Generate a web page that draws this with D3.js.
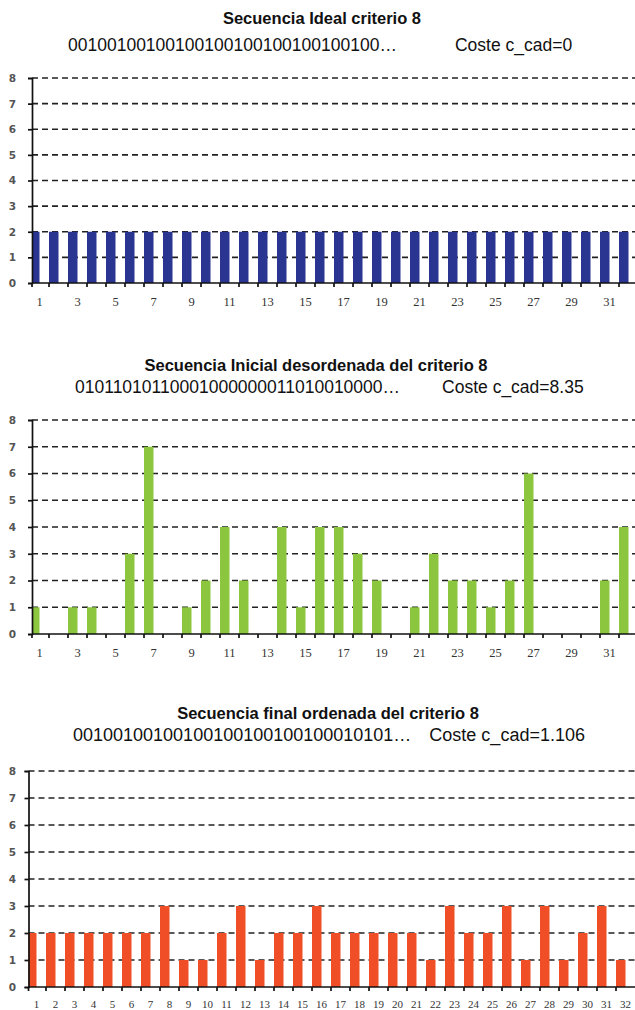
<!DOCTYPE html>
<html>
<head>
<meta charset="utf-8">
<script src="https://d3js.org/d3.v7.min.js"></script>
<style>
  body { margin: 0; background: #fff; }
  svg { display: block; }
</style>
</head>
<body>
<script>
    // posiciones 1..32 de la secuencia
    const categorias = [1, 2, 3, 4, 5, 6, 7, 8, 9, 10, 11, 12, 13, 14, 15, 16,
        17, 18, 19, 20, 21, 22, 23, 24, 25, 26, 27, 28, 29, 30, 31, 32];
    const yTicks = [0, 1, 2, 3, 4, 5, 6, 7, 8];

    const valoresIdeal = [2, 2, 2, 2, 2, 2, 2, 2, 2, 2, 2, 2, 2, 2, 2, 2,
        2, 2, 2, 2, 2, 2, 2, 2, 2, 2, 2, 2, 2, 2, 2, 2];
    const valoresInicial = [1, 0, 1, 1, 0, 3, 7, 0, 1, 2, 4, 2, 0, 4, 1, 4,
        4, 3, 2, 0, 1, 3, 2, 2, 1, 2, 6, 0, 0, 0, 2, 4];
    const valoresFinal = [2, 2, 2, 2, 2, 2, 2, 3, 1, 1, 2, 3, 1, 2, 2, 3,
        2, 2, 2, 2, 2, 1, 3, 2, 2, 3, 1, 3, 1, 2, 3, 1];

    const titulos = ['Secuencia Ideal criterio 8',
        'Secuencia Inicial desordenada del criterio 8',
        'Secuencia final ordenada del criterio 8'];
    const secuencias = ['00100100100100100100100100100100\u2026',
        '01011010110001000000011010010000\u2026',
        '00100100100100100100100100010101\u2026'];
    const costes = ['Coste c_cad=0', 'Coste c_cad=8.35', 'Coste c_cad=1.106'];

    const width = 635, height = 1010;

    const svg = d3.select('body').append('svg')
        .attr('width', width)
        .attr('height', height);

    const charts = [
        { valores: valoresIdeal, color: '#2a3592', titleX: 322, titleY: 24, subX: 68, subY: 51, subGap: 58, subSize: 17.5,
          top: 78, bottom: 283, axisX: 32, x0: 30, x1: 638, oddOnly: true },
        { valores: valoresInicial, color: '#8cc63e', titleX: 316, titleY: 371, subX: 75, subY: 393, subGap: 42, subSize: 17.5,
          top: 420, bottom: 634, axisX: 32, x0: 30, x1: 638, oddOnly: true },
        { valores: valoresFinal, color: '#ef4e26', titleX: 328, titleY: 719, subX: 73, subY: 741, subGap: 18, subSize: 18,
          top: 771, bottom: 987, axisX: 28.5, x0: 27, x1: 635, oddOnly: false }
    ];

    charts.forEach((c, i) => drawChart(c, i));

    function drawChart(c, i) {
        const g = svg.append('g');

        const x = d3.scaleBand()
            .domain(categorias)
            .range([c.x0, c.x1]);
        const bw = x.bandwidth();

        const y = d3.scaleLinear()
            .domain([0, 8])
            .range([c.bottom, c.top]);

        // titulo
        g.append('text')
            .attr('x', c.titleX)
            .attr('y', c.titleY)
            .attr('text-anchor', 'middle')
            .attr('font-family', 'Liberation Sans, Arial, sans-serif')
            .attr('font-weight', 'bold')
            .attr('font-size', 16.5)
            .attr('fill', '#111')
            .text(titulos[i]);

        const sub = g.append('text')
            .attr('x', c.subX)
            .attr('y', c.subY)
            .attr('font-family', 'Liberation Sans, Arial, sans-serif')
            .attr('font-size', c.subSize)
            .attr('fill', '#111');
        sub.append('tspan').text(secuencias[i]);
        sub.append('tspan').attr('dx', c.subGap).text(costes[i]);

        // rejilla discontinua
        g.selectAll('.grid')
            .data(yTicks.slice(1))
            .join('line')
            .attr('x1', c.axisX)
            .attr('x2', width)
            .attr('y1', d => y(d))
            .attr('y2', d => y(d))
            .attr('stroke', '#222')
            .attr('stroke-width', 1.7)
            .attr('stroke-dasharray', '6,4');

        // barras
        g.selectAll('.bar')
            .data(categorias)
            .join('rect')
            .attr('x', d => Math.max(x(d), c.axisX))
            .attr('width', d => x(d) + bw / 2 - Math.max(x(d), c.axisX))
            .attr('y', (d, k) => y(c.valores[k]))
            .attr('height', (d, k) => y(0) - y(c.valores[k]))
            .attr('fill', c.color);

        // eje y
        const yAxis = g.append('g')
            .attr('transform', `translate(${c.axisX},0)`)
            .call(d3.axisLeft(y).tickValues(yTicks).tickSize(4).tickPadding(c.axisX - 20));
        yAxis.select('.domain').attr('stroke', '#111').attr('stroke-width', 1.7);
        yAxis.selectAll('.tick line').attr('stroke', '#111').attr('stroke-width', 1.7);
        yAxis.selectAll('.tick text')
            .attr('font-family', 'DejaVu Sans, sans-serif')
            .attr('font-weight', 'bold')
            .attr('font-size', 10.5)
            .attr('fill', '#555');

        // eje x
        g.append('line')
            .attr('x1', c.axisX)
            .attr('x2', width)
            .attr('y1', y(0))
            .attr('y2', y(0))
            .attr('stroke', '#111')
            .attr('stroke-width', 1.7);

        g.selectAll('.xtick')
            .data(categorias)
            .join('line')
            .attr('x1', d => Math.max(x(d), c.axisX))
            .attr('x2', d => Math.max(x(d), c.axisX))
            .attr('y1', y(0))
            .attr('y2', y(0) + 4)
            .attr('stroke', '#111')
            .attr('stroke-width', 1.7);

        g.selectAll('.xlabel')
            .data(c.oddOnly ? categorias.filter(d => d % 2 === 1) : categorias)
            .join('text')
            .attr('x', d => x(d) + bw / 2)
            .attr('y', y(0) + (c.oddOnly ? 23 : 21))
            .attr('text-anchor', 'middle')
            .attr('font-family', 'Liberation Serif, serif')
            .attr('font-size', c.oddOnly ? 12.5 : 11)
            .attr('fill', '#333')
            .text(d => d);
    }
</script>
</body>
</html>
